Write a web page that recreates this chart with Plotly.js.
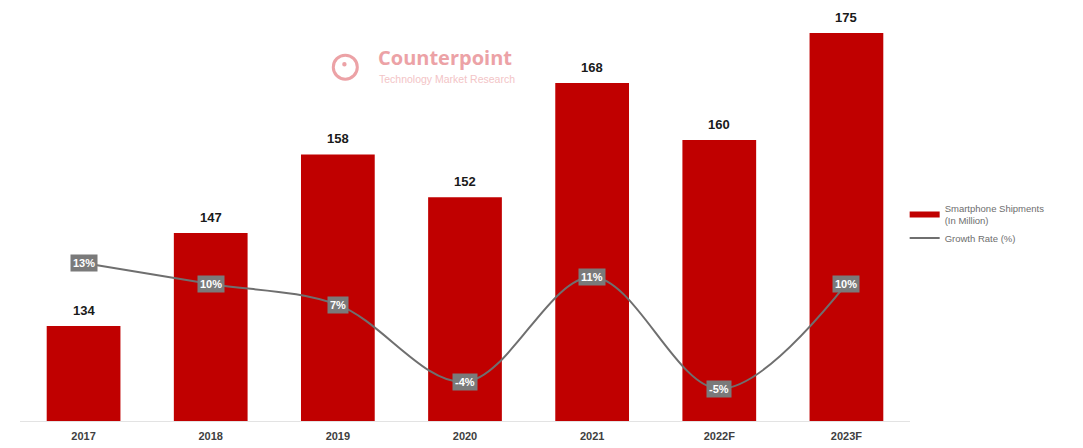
<!DOCTYPE html>
<html><head><meta charset="utf-8">
<script src="https://cdn.plot.ly/plotly-3.0.1.min.js"></script>
<style>html,body{margin:0;padding:0;background:#fff}#chart{width:1083px;height:448px}</style>
</head><body><div id="chart"></div>
<script>
const categories = ["2017","2018","2019","2020","2021","2022F","2023F"];
const shipments = [134,147,158,152,168,160,175];
const growth = [13,10,7,-4,11,-5,10];
const growthLabels = growth.map(v => v + "%");
const xs = categories.map((c, i) => i);

const bars = {
  type: "bar", x: xs, y: shipments, showlegend: false,
  name: "Smartphone Shipments<br>(In Million)",
  marker: {color: "#c00000"},
  hoverinfo: "skip"
};
const barLegend = {
  type: "scatter", mode: "lines", x: [null], y: [null],
  name: "Smartphone Shipments<br>(In Million)",
  line: {color: "#c00000", width: 6}
};
const line = {
  type: "scatter", mode: "lines", x: xs, y: growth, yaxis: "y2",
  name: "Growth Rate (%)",
  line: {color: "#6f6f6f", width: 2, shape: "spline", smoothing: 1},
  hoverinfo: "skip"
};
const anns = xs.map((x, i) => ({
  x: x, y: growth[i], xref: "x", yref: "y2", text: "<b>" + growthLabels[i] + "</b>",
  showarrow: false, bgcolor: "#7a7a7a", borderpad: 2,
  font: {family: "Liberation Sans, Arial", size: 11, color: "#ffffff"}
}));
xs.forEach((x, i) => anns.push({
  x: x, y: shipments[i], xref: "x", yref: "y", yanchor: "bottom", yshift: 6,
  text: "<b>" + shipments[i] + "</b>", showarrow: false,
  font: {family: "Liberation Sans, Arial", size: 13, color: "#1a1a1a"}
}));
anns.push({xref: "paper", yref: "paper", x: 0.400, y: 0.864, xanchor: "left", yanchor: "middle",
  text: "<b>Counterpoint</b>", showarrow: false,
  font: {family: "Open Sans, Arial", size: 20, color: "#eca2a6"}});
anns.push({xref: "paper", yref: "paper", x: 0.401, y: 0.812, xanchor: "left", yanchor: "middle",
  text: "Technology Market Research", showarrow: false,
  font: {family: "Liberation Sans, Arial", size: 10.5, color: "#f3c4c6"}});

const layout = {
  width: 1083, height: 448,
  margin: {l: 20, r: 173, t: 0, b: 27},
  paper_bgcolor: "#ffffff", plot_bgcolor: "#ffffff",
  showlegend: true,
  bargap: 0.42,
  xaxis: {range: [-0.5, 6.5], tickvals: xs, ticktext: categories, showgrid: false, zeroline: false,
    showline: true, linecolor: "#e3e3e3", linewidth: 1, ticks: "", ticklabelstandoff: 5,
    tickfont: {family: "Liberation Sans Narrow, Liberation Sans, Arial", size: 11, color: "#404040", weight: "bold"}},
  yaxis: {range: [120.7, 179.6], visible: false, showgrid: false, zeroline: false},
  yaxis2: {range: [-9.6, 50.6], overlaying: "y", side: "right", visible: false, showgrid: false, zeroline: false},
  legend: {x: 0.994, y: 0.535, xanchor: "left", yanchor: "top", bgcolor: "rgba(0,0,0,0)",
    font: {family: "Liberation Sans, Arial", size: 9.5, color: "#6e6e6e"}, tracegroupgap: 2, itemwidth: 30},
  annotations: anns,
  shapes: [
    {type: "circle", xref: "paper", yref: "paper", x0: 0.352, x1: 0.379, y0: 0.812, y1: 0.869,
      line: {color: "#eca2a6", width: 3}},
    {type: "circle", xref: "paper", yref: "paper", x0: 0.362, x1: 0.367, y0: 0.842, y1: 0.853,
      fillcolor: "#eca2a6", line: {width: 0}}
  ]
};
Plotly.newPlot("chart", [bars, barLegend, line], layout, {staticPlot: true, displayModeBar: false});
</script></body></html>
